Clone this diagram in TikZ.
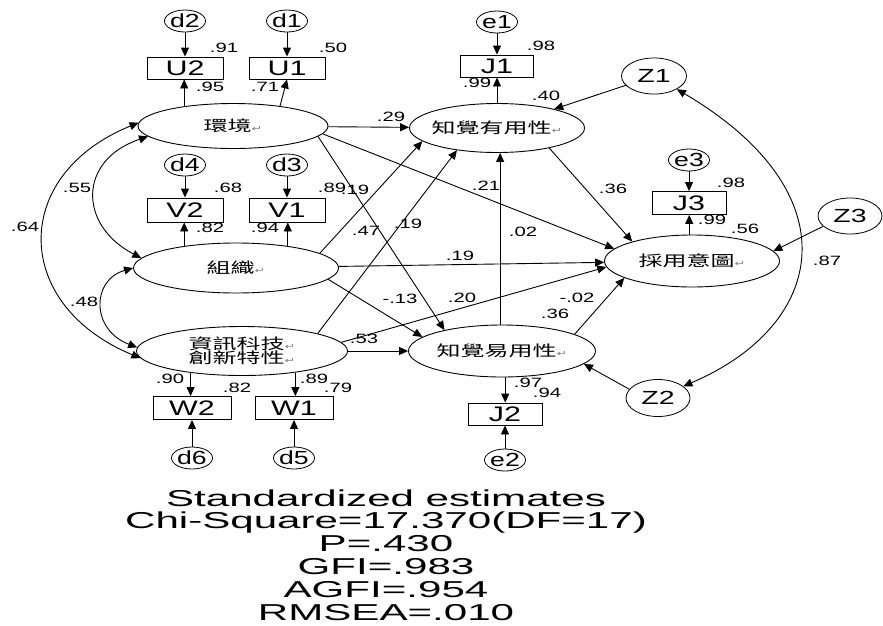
\documentclass[tikz,border=0pt]{standalone}
\usepackage{fontspec}
\setmainfont{Liberation Sans}
\newfontfamily\cjkfont{Noto Sans CJK TC}
\newfontfamily\symfont{DejaVu Sans}
\usetikzlibrary{shapes.geometric,arrows.meta}
\newcommand\numlab[1]{\scalebox{1.5}[1]{\fontsize{13.5}{13.5}\selectfont #1}}
\newcommand\boxlab[1]{\scalebox{1.45}[1]{\fontsize{21}{21}\selectfont #1}}
\newcommand\errlab[1]{\makebox[0pt]{\scalebox{1.4}[1]{\fontsize{19}{19}\selectfont #1}}}
\newcommand\zlab[1]{\makebox[0pt]{\scalebox{1.5}[1]{\fontsize{19}{19}\selectfont #1}}}
\newcommand\retmark{{\symfont\fontsize{8}{8}\selectfont\textcolor{gray}{↵}}}
\newcommand\cjlab[1]{\makebox[0pt]{\scalebox{1.6}[1]{\cjkfont\fontsize{15}{15}\selectfont #1\retmark}}}
\newcommand\statlab[1]{\scalebox{1.83}[1]{\fontsize{23}{23}\selectfont #1}}
\begin{document}
\begin{tikzpicture}[x=1pt,y=-1pt,
  lat/.style={draw, ellipse, inner sep=0pt, line width=0.9pt},
  obs/.style={draw, rectangle, inner sep=0pt, minimum width=76pt, minimum height=23pt, line width=0.9pt},
  err/.style={draw, ellipse, inner sep=0pt, minimum width=41pt, minimum height=22pt, line width=0.8pt},
  zerr/.style={draw, ellipse, inner sep=0pt, minimum width=65pt, minimum height=36pt, line width=0.8pt},
  num/.style={inner sep=0pt},
  stat/.style={inner sep=0pt, anchor=base},
  arr/.style={-{Triangle[length=9pt,width=8pt]}, line width=0.9pt},
  darr/.style={{Triangle[length=9pt,width=8pt]}-{Triangle[length=9pt,width=8pt]}, line width=0.9pt}]
\useasboundingbox (0,0) rectangle (883,625);

% latent variables
\node[lat, minimum width=190pt, minimum height=45pt] (env) at (233,126) {\cjlab{環境}};
\node[lat, minimum width=205pt, minimum height=50pt] (org) at (236,268) {\cjlab{組織}};
\node[lat, minimum width=211pt, minimum height=49pt] (it) at (242,351) {\raisebox{6.75pt}{\cjlab{資訊科技}}\raisebox{-6.75pt}{\cjlab{創新特性}}};
\node[lat, minimum width=175pt, minimum height=49pt] (pu) at (497,128) {\cjlab{知覺有用性}};
\node[lat, minimum width=187pt, minimum height=52pt] (peou) at (502,351) {\cjlab{知覺易用性}};
\node[lat, minimum width=175pt, minimum height=52pt] (ai) at (692,261) {\cjlab{採用意圖}};

% observed variables
\node[obs, minimum height=22pt] (U2) at (185,68) {\boxlab{U2}};
\node[obs, minimum height=22pt] (U1) at (287,68) {\boxlab{U1}};
\node[obs, minimum height=24pt] (V2) at (185,210) {\boxlab{V2}};
\node[obs, minimum height=24pt] (V1) at (287,210) {\boxlab{V1}};
\node[obs, minimum width=78pt] (W2) at (192,408) {\boxlab{W2}};
\node[obs, minimum width=78pt] (W1) at (294,408) {\boxlab{W1}};
\node[obs, minimum width=73pt, minimum height=22pt] (J1) at (497,66) {\boxlab{J1}};
\node[obs, minimum width=74pt] (J3) at (689,203) {\boxlab{J3}};
\node[obs, minimum width=74pt, minimum height=22pt] (J2) at (505,414) {\boxlab{J2}};

% error terms
\node[err] (d2) at (185,21) {\errlab{d2}};
\node[err] (d1) at (287,21) {\errlab{d1}};
\node[err] (d4) at (185,165) {\errlab{d4}};
\node[err] (d3) at (287,165) {\errlab{d3}};
\node[err] (d6) at (192,458) {\errlab{d6}};
\node[err] (d5) at (294,458) {\errlab{d5}};
\node[err] (e1) at (497,22) {\errlab{e1}};
\node[err] (e3) at (689,160) {\errlab{e3}};
\node[err] (e2) at (505,460) {\errlab{e2}};
\node[zerr] (Z1) at (654,76) {\zlab{Z1}};
\node[zerr, minimum width=64pt] (Z3) at (850,216) {\zlab{Z3}};
\node[zerr, minimum width=64pt, minimum height=37pt] (Z2) at (658,398) {\zlab{Z2}};

% measurement arrows
\draw[arr] (d2) -- (U2);
\draw[arr] (d1) -- (U1);
\draw[arr] (env.158) -- (env.158 |- U2.south);
\draw[arr] (env.23.7) -- (U1.south);
\draw[arr] (d4) -- (V2);
\draw[arr] (d3) -- (V1);
\draw[arr] (org.157) -- (org.157 |- V2.south);
\draw[arr] (org.23.6) -- (org.23.6 |- V1.south);
\draw[arr] (it.203.3) -- (it.203.3 |- W2.north);
\draw[arr] (it.-22.3) -- (it.-22.3 |- W1.north);
\draw[arr] (d6) -- (W2);
\draw[arr] (d5) -- (W1);
\draw[arr] (e1) -- (J1);
\draw[arr] (pu.north) -- (J1.south);
\draw[arr] (e3) -- (J3);
\draw[arr] (ai.96.6) -- (ai.96.6 |- J3.south);
\draw[arr] (peou.-83.4) -- (peou.-83.4 |- J2.north);
\draw[arr] (e2) -- (J2);

% structural arrows
\draw[arr] (env) -- (pu);
\draw[arr] (env.-5.9) -- (ai.171.2);
\draw[arr] (env.-7.56) -- (peou.160.1);
\draw[arr] (org.10.7) -- (pu.190.9);
\draw[arr] (org) -- (ai);
\draw[arr] (org.-7.6) -- (peou.170);
\draw[arr] (it.13.6) -- (pu.209.4);
\draw[arr] (it.5.93) -- (ai.184.75);
\draw[arr] (it) -- (peou);
\draw[arr] (pu.-21.9) -- (ai.162);
\draw[arr] (peou.13.4) -- (ai.194);
\draw[arr] (peou.94.4) -- (peou.94.4 |- pu.south);
\draw[arr] (Z1) -- (pu);
\draw[arr] (Z3.201.4) -- (ai.7.9);
\draw[arr] (Z2.163.3) -- (peou.-9.1);

% covariances
\draw[darr] (env.178) .. controls (10,175) and (12,305) .. (it.184);
\draw[darr] (env.187) .. controls (78,160) and (78,225) .. (org.174);
\draw[darr] (org.180) .. controls (91,280) and (91,330) .. (it.178);
\draw[darr] (Z1.-30) .. controls (853,193) and (827,325) .. (Z2.25);

% estimates
\node[num] (l91) at (224,48) {\numlab{.91}};
\node[num] (l50) at (333,48) {\numlab{.50}};
\node[num] (l95) at (210,87) {\numlab{.95}};
\node[num] (l71) at (265,87) {\numlab{.71}};
\node[num] (l68) at (228,188) {\numlab{.68}};
\node[num] (l89a) at (332,188) {\numlab{.89}};
\node[num] (l82a) at (210,228) {\numlab{.82}};
\node[num] (l94a) at (265,228) {\numlab{.94}};
\node[num] (l64) at (25,227) {\numlab{.64}};
\node[num] (l55) at (77,188) {\numlab{.55}};
\node[num] (l48) at (84,302) {\numlab{.48}};
\node[num] (l90) at (170,379) {\numlab{.90}};
\node[num] (l82b) at (237,388) {\numlab{.82}};
\node[num] (l89b) at (314,379) {\numlab{.89}};
\node[num] (l79) at (338,388) {\numlab{.79}};
\node[num] (l29) at (391,117) {\numlab{.29}};
\node[num] (l19a) at (355,190) {\numlab{.19}};
\node[num] (l47) at (366,231) {\numlab{.47}};
\node[num] (l19b) at (408,224) {\numlab{.19}};
\node[num] (l21) at (486,186) {\numlab{.21}};
\node[num] (l02) at (523,232) {\numlab{.02}};
\node[num] (l36a) at (613,189) {\numlab{.36}};
\node[num] (l40) at (546,96) {\numlab{.40}};
\node[num] (l99a) at (477,83) {\numlab{.99}};
\node[num] (l98a) at (541,46) {\numlab{.98}};
\node[num] (l98b) at (731,183) {\numlab{.98}};
\node[num] (l99b) at (712,220) {\numlab{.99}};
\node[num] (l56) at (745,229) {\numlab{.56}};
\node[num] (l87) at (827,261) {\numlab{.87}};
\node[num] (l19c) at (460,256) {\numlab{.19}};
\node[num] (l13) at (400,299) {\numlab{-.13}};
\node[num] (l20) at (462,298) {\numlab{.20}};
\node[num] (l53) at (364,339) {\numlab{.53}};
\node[num] (l02b) at (577,298) {\numlab{-.02}};
\node[num] (l36b) at (555,314) {\numlab{.36}};
\node[num] (l97) at (528,383) {\numlab{.97}};
\node[num] (l94b) at (547,393) {\numlab{.94}};

% fit statistics
\node[stat] (s1) at (386,506) {\statlab{Standardized estimates}};
\node[stat] (s2) at (386,528.8) {\statlab{Chi-Square=17.370(DF=17)}};
\node[stat] (s3) at (386,551.6) {\statlab{P=.430}};
\node[stat] (s4) at (386,574.4) {\statlab{GFI=.983}};
\node[stat] (s5) at (386,597.2) {\statlab{AGFI=.954}};
\node[stat] (s6) at (386,620) {\statlab{RMSEA=.010}};
\end{tikzpicture}
\end{document}
